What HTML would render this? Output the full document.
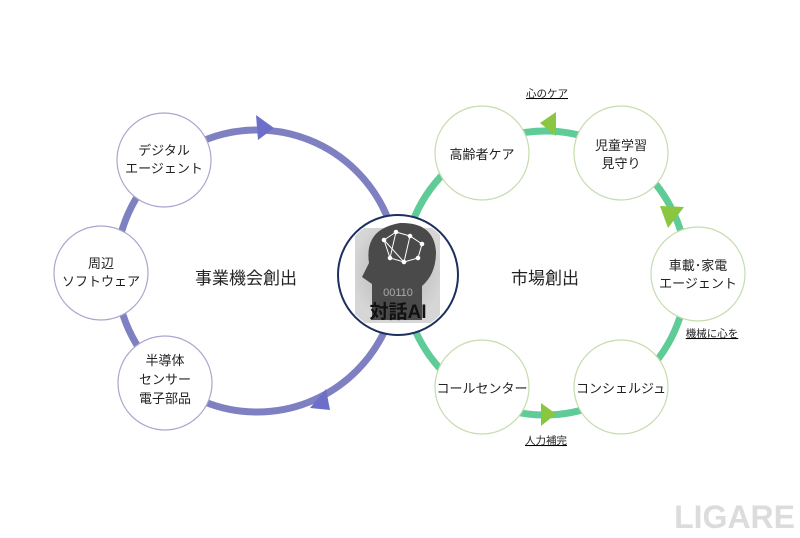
<!DOCTYPE html>
<html><head><meta charset="utf-8"><style>
body{margin:0;background:#fff;}
svg text{font-family:"Liberation Sans","Noto Sans CJK JP",sans-serif;fill:#222;}
</style></head><body>
<svg width="800" height="533" viewBox="0 0 800 533" xmlns="http://www.w3.org/2000/svg">
<defs>
<radialGradient id="g" cx="0.5" cy="0.45" r="0.55"><stop offset="0" stop-color="#777"/><stop offset="1" stop-color="#bbb"/></radialGradient>
<clipPath id="cc"><circle cx="398" cy="275" r="58"/></clipPath>
</defs>
<rect width="800" height="533" fill="#fff"/>
<circle cx="257" cy="271" r="141" fill="none" stroke="#7e80c2" stroke-width="7"/>
<circle cx="545" cy="273" r="142" fill="none" stroke="#5fcb97" stroke-width="7"/>
<polygon points="274,128 256,115 258,140" fill="#6b6fc9"/>
<polygon points="310,408 326,389 330,410" fill="#6b6fc9"/>
<polygon points="540,123 556,112 556,136" fill="#8ac63f"/>
<polygon points="684,207 660,206 668,228" fill="#8ac63f"/>
<polygon points="556,414 541,403 541,426" fill="#8ac63f"/>
<g fill="#fff" stroke="#a9a6cf" stroke-width="1.2">
<circle cx="164" cy="160" r="47"/>
<circle cx="101" cy="273" r="47"/>
<circle cx="165" cy="383" r="47"/>
</g>
<g fill="#fff" stroke="#c4dcae" stroke-width="1.2">
<circle cx="482" cy="153" r="47"/>
<circle cx="621" cy="153" r="47"/>
<circle cx="698" cy="274" r="47"/>
<circle cx="621" cy="387" r="47"/>
<circle cx="482" cy="387" r="47"/>
</g>
<g font-size="13" text-anchor="middle">
<text x="164" y="155">デジタル</text><text x="164" y="173">エージェント</text>
<text x="101" y="268">周辺</text><text x="101" y="286">ソフトウェア</text>
<text x="165" y="365">半導体</text><text x="165" y="384">センサー</text><text x="165" y="403">電子部品</text>
<text x="482" y="159">高齢者ケア</text>
<text x="621" y="150">児童学習</text><text x="621" y="168">見守り</text>
<text x="698" y="270">車載･家電</text><text x="698" y="288">エージェント</text>
<text x="621" y="393">コンシェルジュ</text>
<text x="482" y="393">コールセンター</text>
</g>
<text x="246" y="284" font-size="17" text-anchor="middle">事業機会創出</text>
<text x="545" y="284" font-size="17" text-anchor="middle">市場創出</text>
<g font-size="10.5" text-anchor="middle" text-decoration="underline">
<text x="547" y="97">心のケア</text>
<text x="712" y="337">機械に心を</text>
<text x="546" y="444">人力補完</text>
</g>
<circle cx="398" cy="275" r="60" fill="#fff" stroke="#1c2f5e" stroke-width="2"/>
<g clip-path="url(#cc)">
<rect x="355" y="228" width="85" height="95" fill="url(#g)" opacity="0.6"/>
<path d="M372,320 L372,284 L362,277 L369,263 Q364,229 400,223 Q434,222 436,252 Q436,274 422,286 L422,320 Z" fill="#4a4a4a"/>
</g>
<g stroke="#fff" stroke-width="1" fill="#fff">
<polyline points="384,240 396,232 410,236 422,244 418,258 404,262 390,258 384,240 404,262 410,236 396,232 390,258" fill="none"/>
<circle cx="384" cy="240" r="1.8"/><circle cx="396" cy="232" r="1.8"/><circle cx="410" cy="236" r="1.8"/><circle cx="422" cy="244" r="1.8"/><circle cx="418" cy="258" r="1.8"/><circle cx="404" cy="262" r="1.8"/><circle cx="390" cy="258" r="1.8"/>
</g>
<text x="398" y="296" font-size="11" text-anchor="middle" style="fill:#aaa">00110</text>
<text x="398" y="318" font-size="19" font-weight="bold" text-anchor="middle" style="fill:#111">対話AI</text>
<text x="795" y="528" font-size="32" font-weight="bold" text-anchor="end" style="fill:#dcdcdc">LIGARE</text>
</svg>
</body></html>
